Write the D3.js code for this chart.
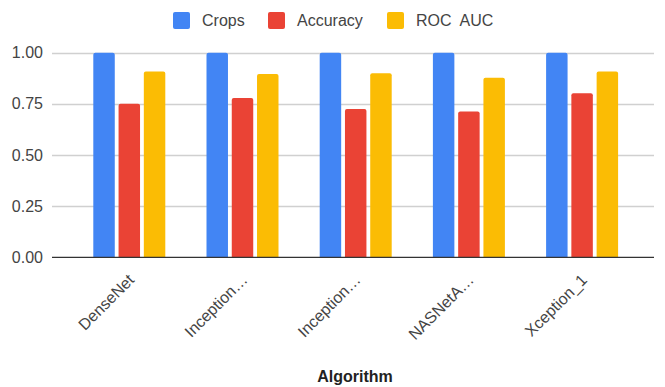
<!DOCTYPE html>
<html>
<head>
<meta charset="utf-8">
<script src="https://cdn.jsdelivr.net/npm/d3@7"></script>
<style>
  html, body { margin: 0; padding: 0; background: #fff; }
</style>
</head>
<body>
<div id="chart"></div>
<script>
const width = 665;
const height = 387;

// data
const algorithms = ["DenseNet", "Inception…", "Inception…", "NASNetA…", "Xception_1"];
const seriesNames = ["Crops", "Accuracy", "ROC  AUC"];
const crops = [1.0, 1.0, 1.0, 1.0, 1.0];
const accuracy = [0.75, 0.778, 0.725, 0.712, 0.802];
const rocAuc = [0.908, 0.896, 0.90, 0.878, 0.908];
const yTicks = [0, 0.25, 0.5, 0.75, 1.0];

const colors = ["#4285F4", "#EA4335", "#FBBC04"];
const values = [crops, accuracy, rocAuc];

const svg = d3.create("svg")
    .attr("width", width)
    .attr("height", height)
    .attr("style", "font-family: 'Liberation Sans', Arial, sans-serif;");

const x0 = d3.scaleBand()
    .domain(d3.range(algorithms.length))
    .range([72.7, 638.7]);

const x1 = d3.scaleBand()
    .domain(seriesNames)
    .range([0, 72])
    .paddingInner(0.15);

const y = d3.scaleLinear()
    .domain([0, 1])
    .range([257.3, 52.7]);

// gridlines
svg.append("g")
    .selectAll("line")
    .data(yTicks.filter(d => d > 0))
    .join("line")
    .attr("x1", 52)
    .attr("x2", 654)
    .attr("y1", d => Math.round(y(d)) + 0.5)
    .attr("y2", d => Math.round(y(d)) + 0.5)
    .attr("stroke", "#d0d0d0")
    .attr("stroke-width", 1.3);

// y labels
svg.append("g")
    .selectAll("text")
    .data(yTicks)
    .join("text")
    .attr("x", 43)
    .attr("y", d => y(d))
    .attr("dy", "0.35em")
    .attr("text-anchor", "end")
    .attr("fill", "#444")
    .attr("font-size", "16px")
    .text(d => d3.format(".2f")(d));

// bars
const groups = svg.append("g")
    .selectAll("g")
    .data(algorithms.map((a, i) => i))
    .join("g")
    .attr("transform", i => `translate(${x0(i) + (x0.bandwidth() - 72) / 2},0)`);

groups.selectAll("path")
    .data(i => seriesNames.map((s, k) => ({ s, k, v: values[k][i] })))
    .join("path")
    .attr("fill", d => colors[d.k])
    .attr("d", d => {
        const bx = x1(d.s), bw = x1.bandwidth();
        const top = y(d.v), bot = y(0), r = 2;
        return `M${bx},${bot}V${top + r}Q${bx},${top} ${bx + r},${top}H${bx + bw - r}Q${bx + bw},${top} ${bx + bw},${top + r}V${bot}Z`;
    });

// baseline
svg.append("line")
    .attr("x1", 52)
    .attr("x2", 654)
    .attr("y1", y(0))
    .attr("y2", y(0))
    .attr("stroke", "#333")
    .attr("stroke-width", 1.3);

// x labels
svg.append("g")
    .selectAll("text")
    .data(algorithms)
    .join("text")
    .attr("transform", (d, i) => `translate(${x0(i) + x0.bandwidth() / 2 + 2},277) rotate(-45)`)
    .attr("text-anchor", "end")
    .attr("dy", "0.35em")
    .attr("fill", "#444")
    .attr("font-size", "16px")
    .text(d => d);

// axis title
svg.append("text")
    .attr("x", 355)
    .attr("y", 382)
    .attr("text-anchor", "middle")
    .attr("font-size", "16px")
    .attr("font-weight", "bold")
    .attr("fill", "#222")
    .text("Algorithm");

// legend
const legendX = [173, 268, 387];
const legend = svg.append("g")
    .selectAll("g")
    .data(seriesNames)
    .join("g")
    .attr("transform", (d, i) => `translate(${legendX[i]},12)`);

legend.append("rect")
    .attr("width", 17)
    .attr("height", 17)
    .attr("rx", 2)
    .attr("fill", (d, i) => colors[i]);

legend.append("text")
    .attr("x", 29)
    .attr("y", 8.5)
    .attr("dy", "0.35em")
    .attr("fill", "#444")
    .attr("font-size", "16px")
    .attr("xml:space", "preserve")
    .style("white-space", "pre")
    .text(d => d);

document.getElementById("chart").appendChild(svg.node());
</script>
</body>
</html>
